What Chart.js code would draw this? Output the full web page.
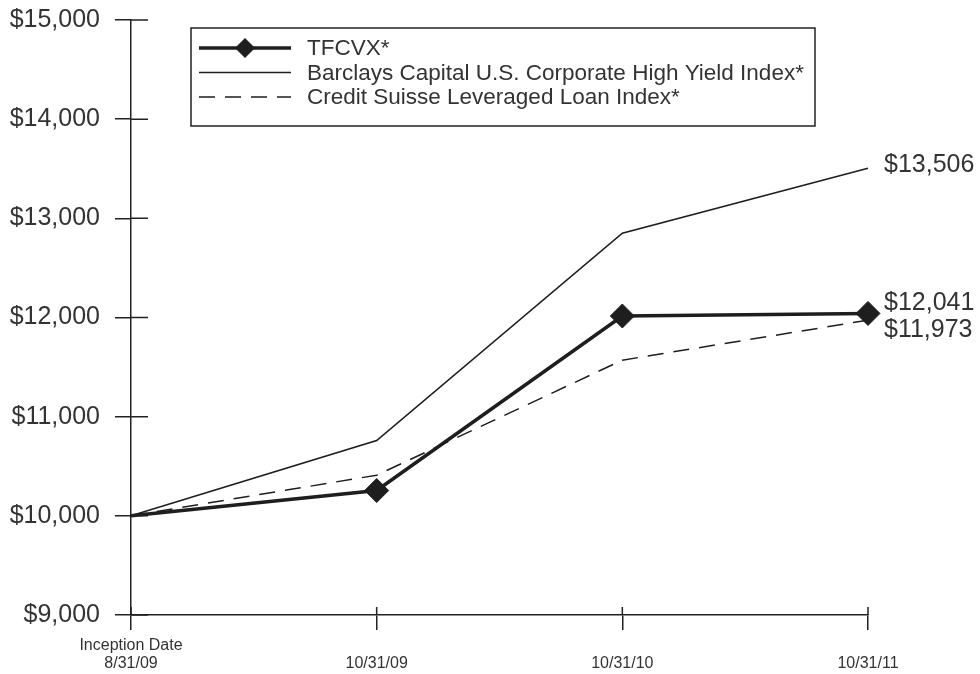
<!DOCTYPE html>
<html>
<head>
<meta charset="utf-8">
<script src="https://cdn.jsdelivr.net/npm/chart.js@4/dist/chart.umd.min.js"></script>
<style>
  html, body { margin: 0; padding: 0; background: #fff; }
  #wrap { width: 980px; height: 674px; }
</style>
</head>
<body>
<div id="wrap"><canvas id="c" width="980" height="674"></canvas></div>
<script>
// Growth of a $10,000 investment
const categories = [['Inception Date', '8/31/09'], ['', '10/31/09'], ['', '10/31/10'], ['', '10/31/11']];
const seriesNames = ['TFCVX*', 'Barclays Capital U.S. Corporate High Yield Index*', 'Credit Suisse Leveraged Loan Index*'];
const tfcvx = [10000, 10255, 12015, 12041];
const barclays = [10000, 10759, 12850, 13506];
const creditSuisse = [10000, 10410, 11570, 11973];
const yTicks = [9000, 10000, 11000, 12000, 13000, 14000, 15000];

const FONT = '"Liberation Sans", Arial, sans-serif';
const INK = '#222';
const TEXT = '#333';

const money = v => '$' + Number(v).toLocaleString('en-US');

// Inner halves of the axis tick marks, ending value labels and the boxed legend
const extras = {
  id: 'extras',
  afterDraw(chart) {
    const ctx = chart.ctx;
    const xs = chart.scales.x, ys = chart.scales.y;
    const area = chart.chartArea;
    ctx.save();
    ctx.strokeStyle = INK;
    ctx.lineWidth = 1.5;
    ctx.beginPath();
    ys.ticks.forEach(t => {
      const y = ys.getPixelForValue(t.value);
      ctx.moveTo(area.left, y);
      ctx.lineTo(area.left + 17, y);
    });
    xs.ticks.forEach((t, i) => {
      const x = xs.getPixelForValue(i);
      ctx.moveTo(x, area.bottom - 8);
      ctx.lineTo(x, area.bottom);
    });
    ctx.stroke();

    // value labels at the end of each line
    const dy = [-10, -3, 10];
    ctx.fillStyle = TEXT;
    ctx.font = '25px ' + FONT;
    ctx.textAlign = 'left';
    ctx.textBaseline = 'middle';
    chart.data.datasets.forEach((ds, i) => {
      const last = ds.data.length - 1;
      const x = xs.getPixelForValue(last) + 16;
      const y = ys.getPixelForValue(ds.data[last]) + dy[i];
      ctx.fillText(money(ds.data[last]), x, y);
    });

    // legend
    const box = { left: 191, top: 28, width: 624, height: 98 };
    ctx.strokeStyle = INK;
    ctx.lineWidth = 1.5;
    ctx.strokeRect(box.left, box.top, box.width, box.height);
    const rows = [48, 72.5, 97];
    ctx.font = '22.5px ' + FONT;
    chart.data.datasets.forEach((ds, i) => {
      const y = rows[i];
      ctx.save();
      ctx.strokeStyle = ds.borderColor;
      ctx.lineWidth = ds.borderWidth;
      ctx.setLineDash(ds.borderDash || []);
      ctx.beginPath();
      ctx.moveTo(199, y);
      ctx.lineTo(291, y);
      ctx.stroke();
      ctx.restore();
      if (ds.pointStyle) {
        ctx.save();
        ctx.fillStyle = ds.pointBackgroundColor;
        ctx.beginPath();
        ctx.moveTo(245 - 10, y);
        ctx.lineTo(245, y - 10);
        ctx.lineTo(245 + 10, y);
        ctx.lineTo(245, y + 10);
        ctx.closePath();
        ctx.fill();
        ctx.restore();
      }
      ctx.fillStyle = TEXT;
      ctx.fillText(ds.label, 307, y + 1);
    });
    ctx.restore();
  }
};

new Chart(document.getElementById('c'), {
  type: 'line',
  data: {
    labels: categories,
    datasets: [
      {
        label: seriesNames[0], data: tfcvx,
        borderColor: '#1e1e1e', borderWidth: 3.5,
        pointStyle: 'rectRot', pointRadius: [0, 12, 12, 12], pointBackgroundColor: '#1e1e1e',
        pointBorderColor: '#1e1e1e', pointBorderWidth: 1, tension: 0
      },
      {
        label: seriesNames[1], data: barclays,
        borderColor: '#1e1e1e', borderWidth: 1.6, pointRadius: 0, tension: 0
      },
      {
        label: seriesNames[2], data: creditSuisse,
        borderColor: '#1e1e1e', borderWidth: 1.5, borderDash: [16, 10],
        pointRadius: 0, tension: 0
      }
    ]
  },
  options: {
    responsive: false,
    animation: false,
    events: [],
    layout: { padding: { top: 20, right: 112, left: 0, bottom: 0 } },
    plugins: { legend: { display: false }, tooltip: { enabled: false } },
    scales: {
      x: {
        type: 'category',
        offset: false,
        afterFit: s => { s.height = 59; s.paddingLeft = 0; s.paddingRight = 0; },
        grid: { drawOnChartArea: false, drawTicks: true, tickLength: 15, color: INK, lineWidth: 1.5 },
        border: { display: true, color: INK, width: 1.5 },
        ticks: {
          color: TEXT, padding: 7, maxRotation: 0, autoSkip: false,
          font: { family: FONT, size: 16, lineHeight: 1.1 }
        }
      },
      y: {
        min: 9000, max: 15000,
        afterFit: s => { s.width = 131; s.paddingTop = 0; s.paddingBottom = 0; },
        afterBuildTicks: s => { s.ticks = yTicks.map(v => ({ value: v })); },
        grid: { drawOnChartArea: false, drawTicks: true, tickLength: 16, color: INK, lineWidth: 1.5 },
        border: { display: true, color: INK, width: 1.5 },
        ticks: {
          color: TEXT, padding: 15,
          font: { family: FONT, size: 25 },
          callback: v => money(v)
        }
      }
    }
  },
  plugins: [extras]
});
</script>
</body>
</html>
